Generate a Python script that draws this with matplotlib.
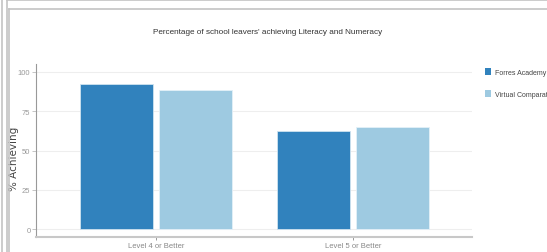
import matplotlib
matplotlib.use("Agg")
import matplotlib.pyplot as plt
from matplotlib.lines import Line2D
from matplotlib.patches import Patch
import numpy as np

categories = ["Level 4 or Better", "Level 5 or Better"]
series_names = ["Forres Academy", "Virtual Comparator"]
forres = [92.4, 62.4]
virtual = [88.5, 65.0]
yticks = [0, 25, 50, 75, 100]
colors = ["#3182bd", "#9ecae1"]

narrow = ["Liberation Sans", "DejaVu Sans"]

fig = plt.figure(figsize=(5.47, 2.53), dpi=100)
ax = fig.add_axes([36/547, 1-238/253, (472-36)/547, (238-65)/253])

x = np.arange(len(categories))
w = 0.37
ax.bar(x - 0.2, forres, w, color=colors[0], edgecolor="#cfe3f0", linewidth=0.6, zorder=3)
ax.bar(x + 0.2, virtual, w, color=colors[1], edgecolor="#e3f0f8", linewidth=0.6, zorder=3)

ax.set_xlim(-0.61, 1.605)
ax.set_ylim(-5, 105)
ax.set_yticks(yticks)
ax.set_yticklabels([str(v) for v in yticks], fontfamily=narrow, fontsize=5.5, color="#999999")
ax.set_xticks(x)
ax.set_xticklabels(categories, fontfamily=narrow, fontsize=5.5, color="#888888")
ax.tick_params(axis="y", length=3, width=0.6, color="#bbbbbb", pad=1)
ax.tick_params(axis="x", length=2, width=0.6, color="#888888", pad=1.5)
ax.grid(axis="y", color="#eeeeee", linewidth=0.8, zorder=0)
for s in ["top", "right"]:
    ax.spines[s].set_visible(False)
ax.spines["left"].set_color("#999999")
ax.spines["left"].set_linewidth(0.8)
ax.spines["bottom"].set_color("#c8c8c8")
ax.spines["bottom"].set_linewidth(1.5)

ax.set_ylabel("% Achieving", fontsize=7.5, color="#444444")
ax.yaxis.set_label_coords(-0.039, 0.46)

fig.text(268/547, 1-33/253, "Percentage of school leavers' achieving Literacy and Numeracy",
         ha="center", va="center", fontsize=5.9, color="#333333", fontfamily=narrow)

handles = [Patch(facecolor=c, edgecolor="none") for c in colors]
leg = fig.legend(handles, series_names, loc="upper left", bbox_to_anchor=(485/547, 1-69/253),
                 frameon=False, prop={"family": narrow, "size": 5.0}, handlelength=0.9,
                 handleheight=1.1, labelspacing=2.1, handletextpad=0.6, borderaxespad=0,
                 borderpad=0)
for t in leg.get_texts():
    t.set_color("#444444")

# outer frame lines
def fl(xs, ys, c="#c4c4c4", lw=1.2):
    fig.add_artist(Line2D(xs, ys, transform=fig.transFigure, color=c, linewidth=lw))

fl([2/547, 2/547], [0, 1])
fl([7/547, 7/547], [0, 1])
fl([7/547, 1], [1-0.5/253, 1-0.5/253])
fl([9/547, 1], [1-10/253, 1-10/253])
fl([9/547, 9/547], [0, 1-10/253])

fig.savefig("out.png", dpi=100)
